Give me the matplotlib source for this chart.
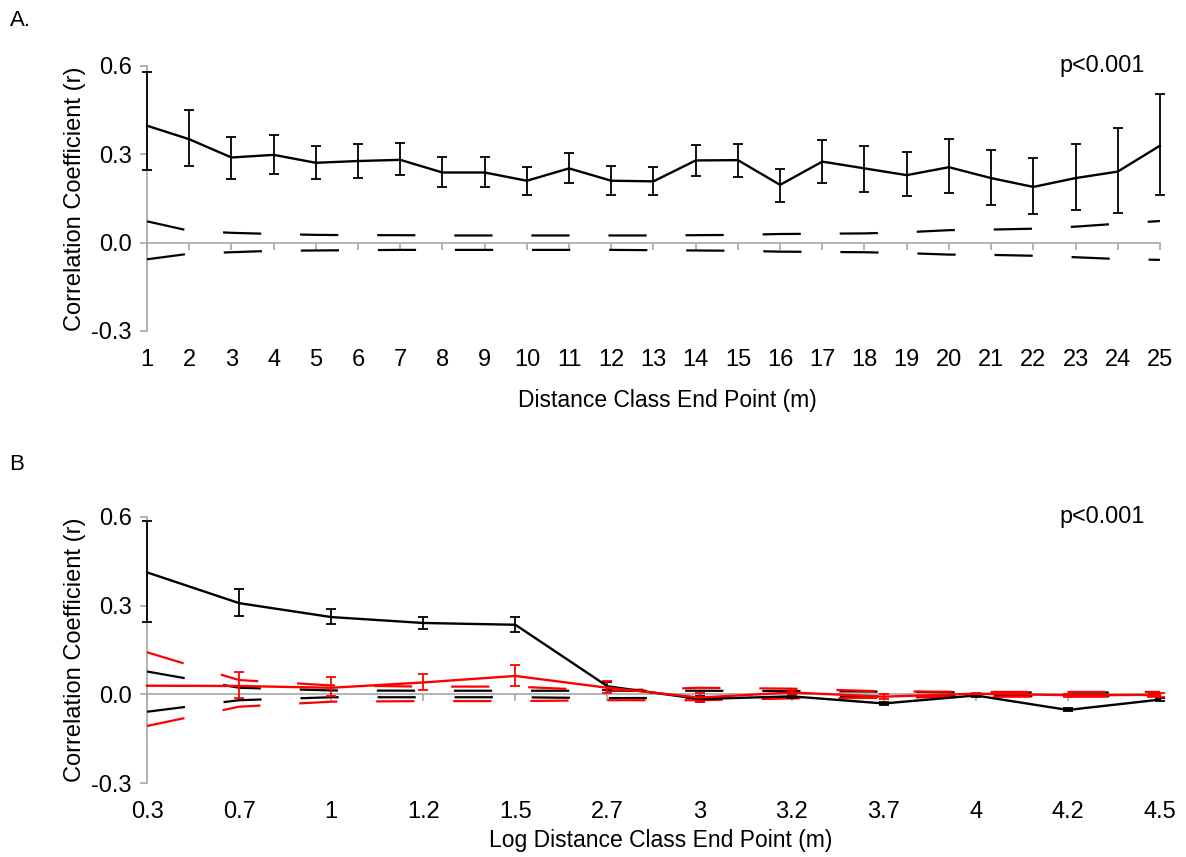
import numpy as np
import matplotlib
matplotlib.use("Agg")
import matplotlib.pyplot as plt

plt.rcParams['font.family'] = ['Liberation Sans', 'DejaVu Sans']
plt.rcParams['lines.scale_dashes'] = False

nan = np.nan

# panel A: distance classes 1..25 m
a_labels = [str(i) for i in range(1, 26)]
a_r = [0.397, 0.351, 0.289, 0.298, 0.271, 0.277, 0.281, 0.238, 0.238, 0.210, 0.252, 0.210, 0.208,
       0.279, 0.280, 0.196, 0.275, 0.252, 0.229, 0.256, 0.219, 0.189, 0.219, 0.241, 0.329]
a_hi = [0.580, 0.450, 0.360, 0.364, 0.328, 0.335, 0.338, 0.289, 0.292, 0.258, 0.303, 0.259, 0.258,
        0.331, 0.335, 0.250, 0.347, 0.327, 0.306, 0.351, 0.314, 0.286, 0.336, 0.390, 0.506]
a_lo = [0.247, 0.259, 0.216, 0.233, 0.215, 0.218, 0.228, 0.190, 0.189, 0.163, 0.203, 0.161, 0.160,
        0.225, 0.223, 0.137, 0.201, 0.172, 0.157, 0.167, 0.127, 0.097, 0.112, 0.099, 0.163]
a_env_up = [0.072, 0.040, 0.033, 0.029, 0.026, 0.025, 0.025, 0.024, 0.024, 0.024, 0.024, 0.024, 0.024,
            0.025, 0.026, 0.029, 0.030, 0.031, 0.035, 0.042, 0.044, 0.047, 0.054, 0.064, 0.073]
a_env_lo = [-0.057, -0.038, -0.033, -0.028, -0.027, -0.026, -0.025, -0.025, -0.025, -0.025, -0.025, -0.025, -0.026,
            -0.027, -0.028, -0.031, -0.032, -0.033, -0.036, -0.041, -0.042, -0.045, -0.050, -0.056, -0.059]

# panel B: log distance classes
b_labels = ["0.3", "0.7", "1", "1.2", "1.5", "2.7", "3", "3.2", "3.7", "4", "4.2", "4.5"]
b_r = [0.412, 0.308, 0.261, 0.241, 0.235, 0.027, -0.016, -0.007, -0.031, -0.004, -0.053, -0.018]
b_hi = [0.587, 0.355, 0.288, 0.261, 0.261, 0.040, -0.005, 0.000, -0.025, 0.000, -0.048, -0.013]
b_lo = [0.246, 0.266, 0.238, 0.220, 0.210, 0.015, -0.027, -0.013, -0.037, -0.008, -0.058, -0.023]
b_env_up = [0.077, 0.022, 0.013, 0.012, 0.012, 0.012, 0.012, 0.011, 0.009, 0.006, 0.006, 0.006]
b_env_lo = [-0.059, -0.020, -0.010, -0.010, -0.010, -0.013, -0.012, -0.010, -0.008, -0.006, -0.006, -0.006]

red_r = [0.029, 0.028, 0.022, 0.040, 0.062, 0.022, -0.011, 0.006, -0.008, 0.002, -0.003, -0.002]
red_hi = [nan, 0.077, 0.060, 0.070, 0.100, 0.046, 0.005, 0.015, 0.000, 0.006, 0.002, 0.004]
red_lo = [nan, -0.014, -0.006, 0.013, 0.027, 0.003, -0.027, -0.003, -0.015, -0.002, -0.008, -0.008]
red_env_up = [0.142, 0.048, 0.030, 0.026, 0.026, 0.012, 0.022, 0.019, 0.010, 0.008, 0.008, 0.008]
red_env_lo = [-0.107, -0.042, -0.025, -0.023, -0.023, -0.020, -0.020, -0.014, -0.012, -0.008, -0.008, -0.008]

grey = "#a6a6a6"
dash = (0, (27.5, 28))


def draw_series(ax, x, r, hi, lo, env_up, env_lo, color):
    r = np.array(r)
    err = [r - np.array(lo), np.array(hi) - r]
    ax.plot(x, env_up, color=color, lw=1.6, linestyle=dash, clip_on=False, zorder=3)
    ax.plot(x, env_lo, color=color, lw=1.6, linestyle=dash, clip_on=False, zorder=3)
    ax.errorbar(x, r, yerr=err, color=color, lw=1.7, elinewidth=1.3, capsize=3.6,
                capthick=1.3, clip_on=False, zorder=4)


def style_axes(ax, labels, xlabel, xlabel_x, xlabel_y):
    n = len(labels)
    x = np.arange(n)
    ax.set_xlim(0, n - 1)
    ax.set_ylim(-0.3, 0.6)
    ax.set_yticks([-0.3, 0.0, 0.3, 0.6])
    ax.set_yticklabels(["-0.3", "0.0", "0.3", "0.6"])
    for s in ["top", "right"]:
        ax.spines[s].set_visible(False)
    ax.spines["left"].set_color(grey)
    ax.spines["left"].set_linewidth(1.2)
    ax.spines["bottom"].set_position(("data", 0))
    ax.spines["bottom"].set_color(grey)
    ax.spines["bottom"].set_linewidth(1.2)
    ax.spines["bottom"].set_zorder(1)
    ax.tick_params(axis="y", direction="out", length=5, width=1.2, color=grey,
                   labelsize=17, pad=6)
    ax.set_xticks(x)
    ax.tick_params(axis="x", direction="out", length=5, width=1.2, color=grey,
                   labelbottom=False)
    sec = ax.secondary_xaxis("bottom")
    sec.set_xticks(x)
    sec.set_xticklabels(labels)
    sec.spines["bottom"].set_visible(False)
    sec.tick_params(axis="x", length=0, labelsize=17, pad=13)
    ax.set_ylabel("Correlation Coefficient (r)", fontsize=17, labelpad=4)
    fig.text(xlabel_x, xlabel_y, xlabel, fontsize=16.5, ha="center", va="center")
    ax.text(0.985, 1.0, "p<0.001", transform=ax.transAxes, fontsize=16.8,
            ha="right", va="center")
    return x


fig = plt.figure(figsize=(11.86, 8.57), dpi=100)
axA = fig.add_axes([0.124, 0.614, 0.854, 0.309])
axB = fig.add_axes([0.124, 0.0863, 0.854, 0.3107])

xa = style_axes(axA, a_labels, "Distance Class End Point (m)", 667 / 1186, 1 - 400 / 857)
draw_series(axA, xa, a_r, a_hi, a_lo, a_env_up, a_env_lo, "black")

xb = style_axes(axB, b_labels, "Log Distance Class End Point (m)", 661 / 1186, 1 - 840 / 857)
draw_series(axB, xb, b_r, b_hi, b_lo, b_env_up, b_env_lo, "black")
draw_series(axB, xb, red_r, red_hi, red_lo, red_env_up, red_env_lo, "red")

fig.text(0.008, 1 - 20 / 857, "A.", fontsize=16, va="center")
fig.text(0.008, 1 - 465 / 857, "B", fontsize=16, va="center")

fig.savefig("out.png", dpi=100)
